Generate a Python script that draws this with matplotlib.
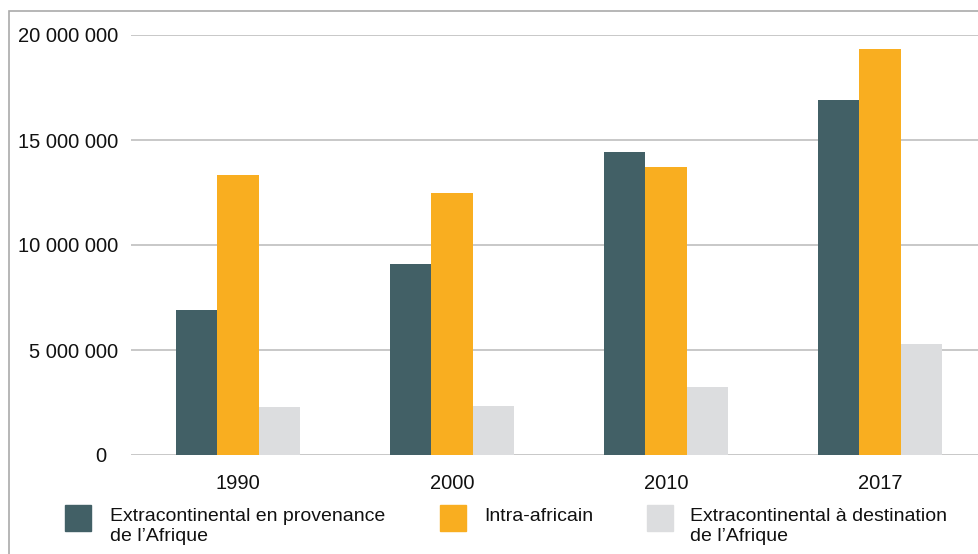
import matplotlib.pyplot as plt
import matplotlib.patches as mpatches
from matplotlib.ticker import FuncFormatter
import numpy as np

plt.rcParams['font.family'] = ['Liberation Sans Narrow', 'Liberation Sans', 'DejaVu Sans']

# Données
annees = ['1990', '2000', '2010', '2017']
extra_provenance = [6900000, 9100000, 14430000, 16900000]
intra_africain = [13330000, 12480000, 13710000, 19330000]
extra_destination = [2290000, 2330000, 3240000, 5290000]
series = ['Extracontinental en provenance\nde l\u2019Afrique',
          'Intra-africain',
          'Extracontinental \u00e0 destination\nde l\u2019Afrique']
couleurs = ['#426066', '#F9AE20', '#DCDDDF']


def format_nombre(v, p):
    if v == 0:
        return '0  '
    return f'{int(v):,}'.replace(',', ' ')


fig = plt.figure(figsize=(9.79, 5.54), dpi=100)
W, H = 979, 554
ax = fig.add_axes([131 / W, (H - 455) / H, (987 - 131) / W, (455 - 35) / H])

x = np.arange(len(annees))
largeur = 0.193
for i, (vals, c) in enumerate(zip([extra_provenance, intra_africain, extra_destination], couleurs)):
    ax.bar(x + (i - 1) * largeur, vals, largeur, color=c, zorder=3)

ax.set_xlim(-0.5, 3.5)
ax.set_ylim(0, 20000000)
ax.set_yticks([0, 5000000, 10000000, 15000000, 20000000])
ax.yaxis.set_major_formatter(FuncFormatter(format_nombre))
ax.set_xticks(x)
ax.set_xticklabels(annees)
ax.grid(axis='y', color='#C4C4C4', linewidth=1.3, zorder=0)
for s in ax.spines.values():
    s.set_visible(False)
ax.tick_params(axis='both', length=0, labelsize=14.5, colors='#111111')
ax.tick_params(axis='y', pad=9)
ax.tick_params(axis='x', pad=14)

# Cadre
fig.patches.append(mpatches.Rectangle((9 / W, -0.1), 1.2, 1 - 11 / H + 0.1, transform=fig.transFigure,
                                      fill=False, edgecolor='#AAAAAA', linewidth=1.2))

# Légende
pos_carre = [65, 440, 647]
pos_texte = [110, 484, 690]
for xc, xt, lab, c in zip(pos_carre, pos_texte, series, couleurs):
    fig.patches.append(mpatches.Rectangle((xc / W, 1 - 531 / H), 26 / W, 26 / H,
                                          transform=fig.transFigure, color=c))
    fig.text(xt / W, 1 - 508 / H, lab, fontsize=14, va='top', ha='left',
             color='#111111', linespacing=1.22)

fig.savefig('out.png', dpi=100)
